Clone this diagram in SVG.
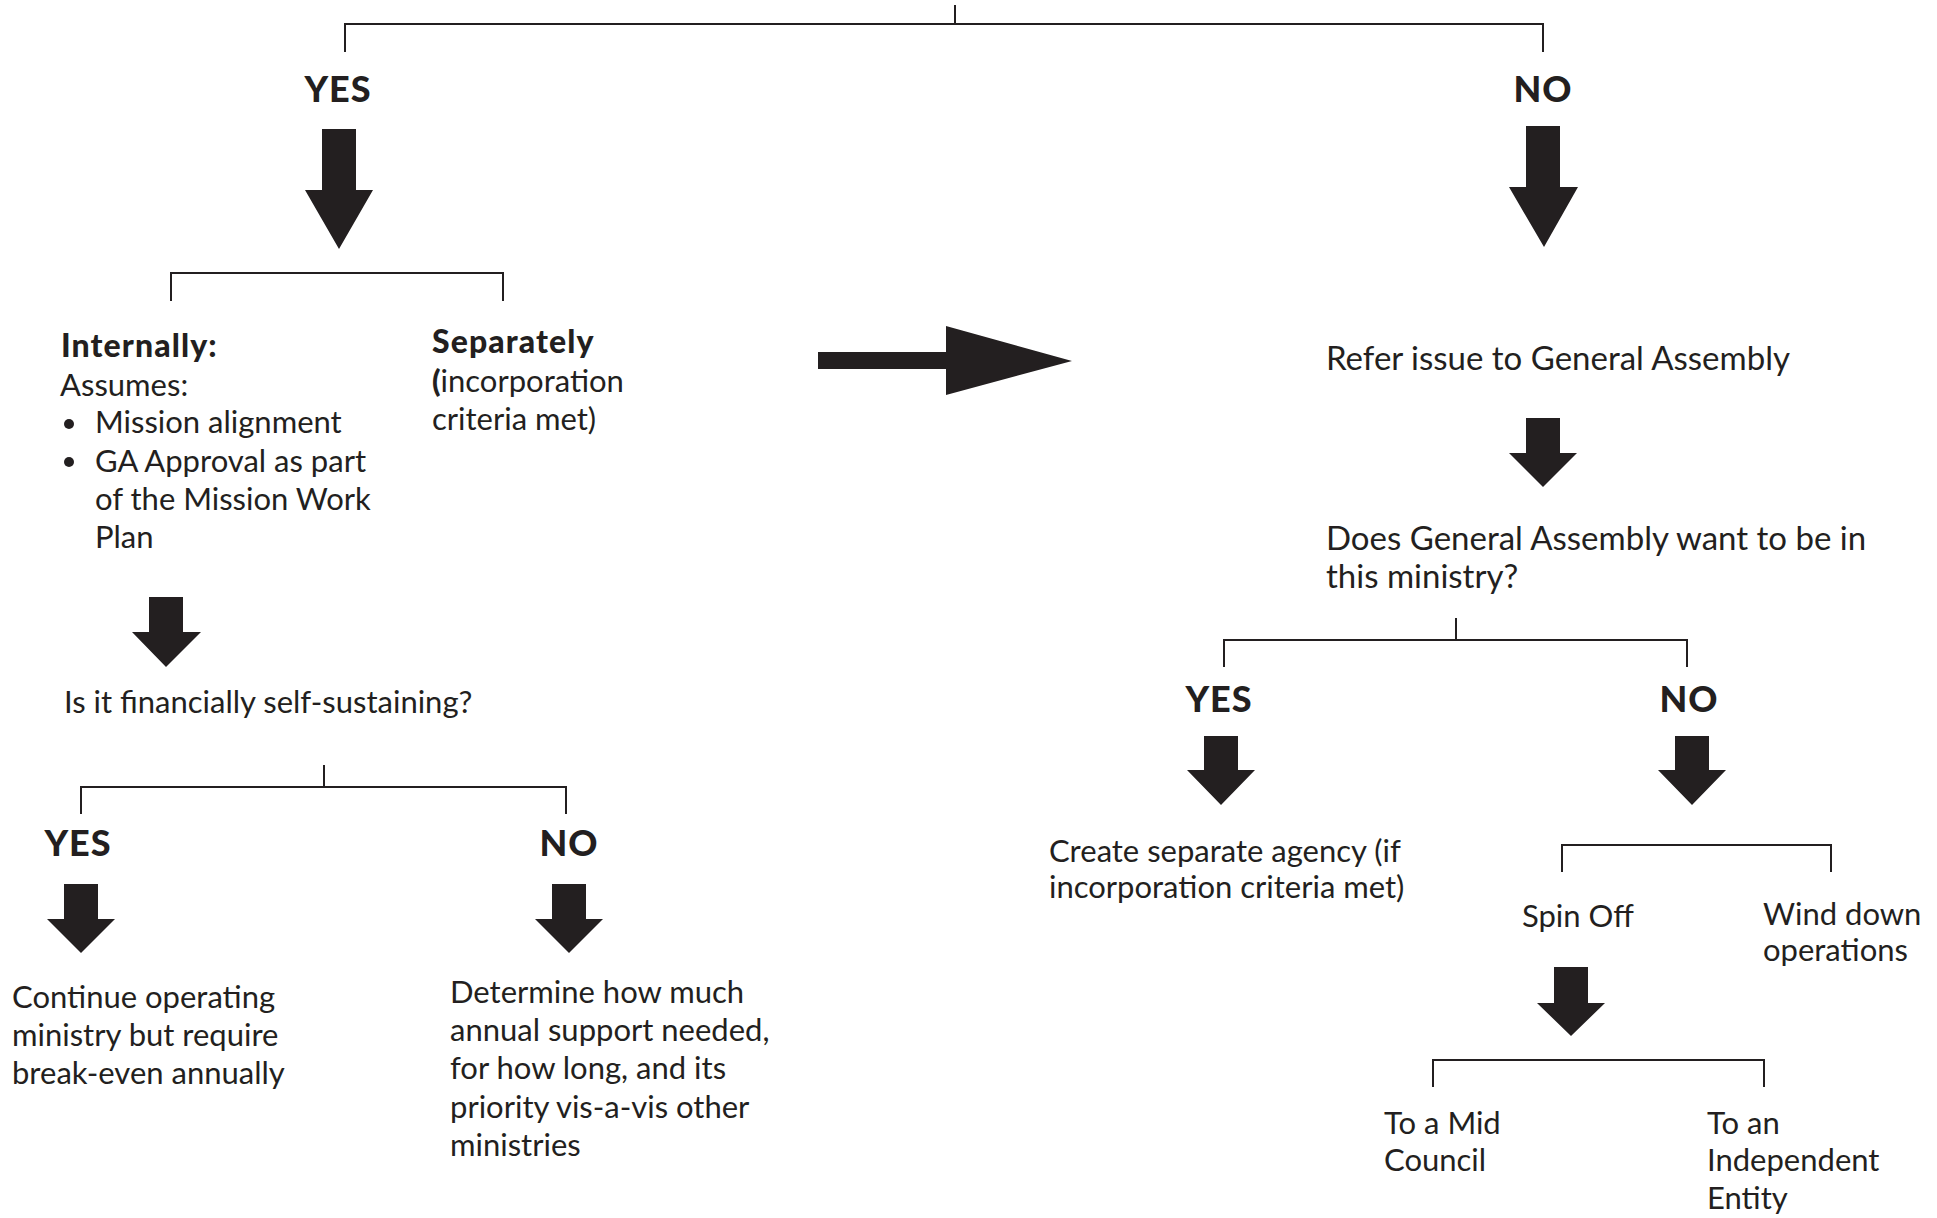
<svg xmlns="http://www.w3.org/2000/svg" width="1937" height="1218" viewBox="0 0 1937 1218">
<style>
  .bg { fill: #ffffff; }
  .t { font-family: Lato, "Open Sans", "Liberation Sans", sans-serif; font-size: 31px; fill: #231f20; }
  .big { font-size: 33px; }
  .b { font-weight: 900; }
  .hd { font-size: 32px; letter-spacing: 1.1px; }
  .lbl { font-family: Lato, "Open Sans", "Liberation Sans", sans-serif; font-size: 36px; font-weight: 900; letter-spacing: 1px; fill: #231f20; text-anchor: middle; }
  .br { fill: none; stroke: #231f20; stroke-width: 2; }
  .ar { fill: #231f20; stroke: none; }
</style>
<rect class="bg" x="0" y="0" width="1937" height="1218"/>

<g id="connectors">
  <path class="br" d="M955 5 V24"/>
  <path class="br" d="M345 52 V24 H1543 V52"/>
  <path class="br" d="M171 301 V273 H503 V301"/>
  <path class="br" d="M324 765 V787"/>
  <path class="br" d="M81 814 V787 H566 V814"/>
  <path class="br" d="M1456 618 V640"/>
  <path class="br" d="M1224 667 V640 H1687 V667"/>
  <path class="br" d="M1562 872 V845 H1831 V872"/>
  <path class="br" d="M1433 1087 V1060 H1764 V1087"/>
  <polygon class="ar" points="322,129 356,129 356,190 373,190 339,249 305,190 322,190"/>
  <polygon class="ar" points="1526,126 1560,126 1560,187 1578,187 1544,247 1509,187 1526,187"/>
  <polygon class="ar" points="149,597 183,597 183,632 201,632 166,667 132,632 149,632"/>
  <polygon class="ar" points="818,352 946,352 946,326 1072,361 946,395 946,369 818,369"/>
  <polygon class="ar" points="1526,418 1560,418 1560,453 1577,453 1543,487 1509,453 1526,453"/>
  <polygon class="ar" points="1204,736 1238,736 1238,770 1255,770 1221,805 1187,770 1204,770"/>
  <polygon class="ar" points="1675,736 1709,736 1709,770 1726,770 1692,805 1658,770 1675,770"/>
  <polygon class="ar" points="1554,967 1588,967 1588,1003 1605,1003 1571,1036 1537,1003 1554,1003"/>
  <polygon class="ar" points="64,884 98,884 98,919 115,919 81,953 47,919 64,919"/>
  <polygon class="ar" points="552,884 586,884 586,919 603,919 569,953 535,919 552,919"/>
</g>

<g id="top-yes"><text class="lbl" x="338" y="102">YES</text></g>
<g id="top-no"><text class="lbl" x="1543" y="102">NO</text></g>

<g id="internally">
  <text class="t b hd" x="61" y="357">Internally:</text>
  <text class="t" x="60" y="396">Assumes:</text>
  <circle class="ar" cx="69" cy="424" r="5"/>
  <text class="t" x="95" y="433">Mission alignment</text>
  <circle class="ar" cx="69" cy="462" r="5"/>
  <text class="t" x="95" y="472">GA Approval as part</text>
  <text class="t" x="95" y="510">of the Mission Work</text>
  <text class="t" x="95" y="548">Plan</text>
</g>

<g id="separately">
  <text class="t b hd" x="432" y="353">Separately</text>
  <text class="t" x="432" y="392"><tspan class="b">(</tspan>incorporation</text>
  <text class="t" x="432" y="430">criteria met)</text>
</g>

<g id="self-sustaining"><text class="t" x="64" y="713">Is it financially self-sustaining?</text></g>

<g id="low-yes"><text class="lbl" x="78" y="856">YES</text></g>
<g id="low-no"><text class="lbl" x="569" y="856">NO</text></g>

<g id="continue">
  <text class="t" x="12" y="1008">Continue operating</text>
  <text class="t" x="12" y="1046">ministry but require</text>
  <text class="t" x="12" y="1084">break-even annually</text>
</g>

<g id="determine">
  <text class="t" x="450" y="1003">Determine how much</text>
  <text class="t" x="450" y="1041">annual support needed,</text>
  <text class="t" x="450" y="1079">for how long, and its</text>
  <text class="t" x="450" y="1118">priority vis-a-vis other</text>
  <text class="t" x="450" y="1156">ministries</text>
</g>

<g id="refer"><text class="t big" x="1326" y="370">Refer issue to General Assembly</text></g>

<g id="ga-question">
  <text class="t big" x="1326" y="550">Does General Assembly want to be in</text>
  <text class="t big" x="1326" y="588">this ministry?</text>
</g>

<g id="right-yes"><text class="lbl" x="1219" y="712">YES</text></g>
<g id="right-no"><text class="lbl" x="1689" y="712">NO</text></g>

<g id="create-agency">
  <text class="t" x="1049" y="862">Create separate agency (if</text>
  <text class="t" x="1049" y="898">incorporation criteria met)</text>
</g>

<g id="spin-off"><text class="t" x="1522" y="927">Spin Off</text></g>

<g id="wind-down">
  <text class="t" x="1763" y="925">Wind down</text>
  <text class="t" x="1763" y="961">operations</text>
</g>

<g id="mid-council">
  <text class="t" x="1384" y="1134">To a Mid</text>
  <text class="t" x="1384" y="1171">Council</text>
</g>

<g id="independent">
  <text class="t" x="1707" y="1134">To an</text>
  <text class="t" x="1707" y="1171">Independent</text>
  <text class="t" x="1707" y="1209">Entity</text>
</g>
</svg>
